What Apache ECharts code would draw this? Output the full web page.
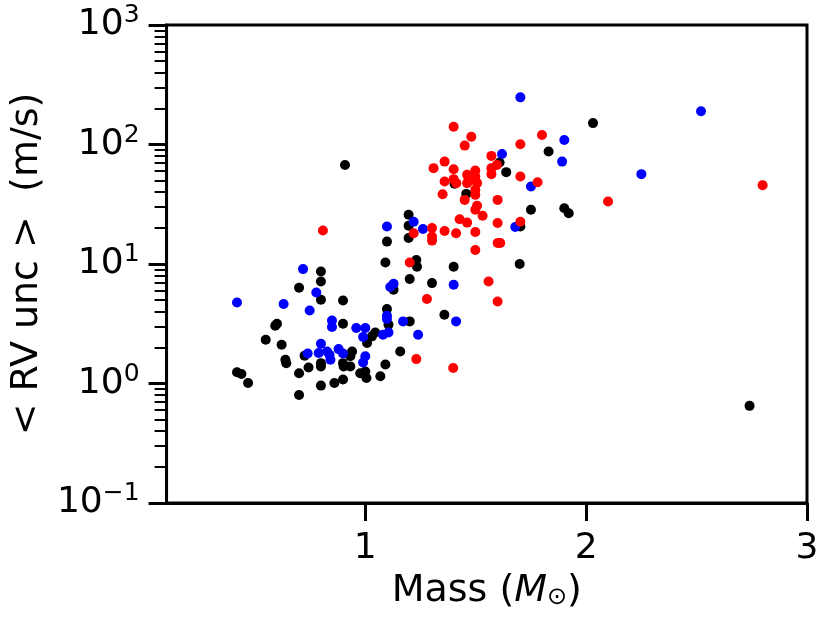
<!DOCTYPE html>
<html>
<head>
<meta charset="utf-8">
<script src="https://cdn.jsdelivr.net/npm/echarts@6/dist/echarts.min.js"></script>
<style>
  html, body { margin: 0; padding: 0; background: #fff; }
  #chart { width: 830px; height: 621px; }
</style>
</head>
<body>
<div id="chart"></div>
<script>
// [mass, <RV unc>] pairs
var blackPts = [
  [1.196, 25.8], [1.196, 20.9], [1.098, 15.4], [1.196, 16.5], [1.091, 10.3], [1.231, 10.8],
  [1.234, 9.5], [1.201, 7.48], [1.302, 6.92], [0.799, 8.65], [0.799, 7.14], [0.700, 6.32],
  [1.128, 6.09], [0.799, 5.02], [0.899, 4.95], [1.098, 4.20], [1.105, 3.10], [1.201, 3.31],
  [0.592, 3.04], [0.600, 3.16], [0.899, 3.16], [0.549, 2.32], [0.621, 2.11], [1.045, 2.67],
  [1.030, 2.48], [1.008, 2.18], [0.940, 1.85], [0.932, 1.69], [1.158, 1.85], [0.725, 1.71],
  [0.638, 1.58], [0.642, 1.48], [0.799, 1.48], [0.799, 1.39], [0.899, 1.48], [0.902, 1.39],
  [0.932, 1.39], [0.743, 1.36], [1.091, 1.44], [0.700, 1.22], [0.419, 1.24], [0.439, 1.20],
  [0.469, 1.01], [0.977, 1.22], [1.000, 1.26], [1.005, 1.11], [1.068, 1.15], [0.899, 1.08],
  [0.860, 1.01], [0.799, 0.96], [0.700, 0.80], [2.031, 151], [1.830, 87.3], [1.608, 70.6],
  [1.638, 58.7], [1.404, 46.9], [1.457, 38.6], [1.750, 28.4], [1.901, 29.3], [1.921, 26.6],
  [1.702, 20.6], [1.400, 9.5], [1.699, 10.0], [1.358, 3.76], [2.740, 0.65], [0.908, 67.3]
];
var bluePts = [
  [1.219, 22.6], [1.261, 19.6], [1.098, 20.6], [0.718, 9.06], [0.778, 5.78], [0.748, 4.08],
  [0.630, 4.62], [0.419, 4.77], [1.113, 6.41], [1.128, 6.83], [1.098, 3.69], [1.098, 3.46],
  [0.849, 3.37], [0.849, 2.97], [0.959, 2.91], [1.000, 2.91], [0.990, 2.45], [1.171, 3.31],
  [1.239, 2.56], [1.080, 2.56], [1.105, 2.67], [0.799, 2.15], [0.739, 1.78], [0.789, 1.80],
  [0.827, 1.85], [0.842, 1.58], [0.838, 1.74], [0.879, 1.94], [0.899, 1.78], [1.000, 1.69],
  [0.990, 1.50], [1.702, 248], [1.901, 109], [1.891, 71.9], [1.619, 83.4], [1.750, 44.5],
  [1.679, 20.4], [1.400, 6.70], [1.411, 3.31], [2.520, 190], [2.250, 56.5]
];
var redPts = [
  [0.808, 19.1], [1.219, 18.1], [1.302, 20.0], [1.302, 17.0], [1.302, 15.7], [1.201, 10.3],
  [1.279, 5.09], [1.231, 1.60], [1.400, 141], [1.480, 116], [1.450, 97.9], [1.800, 120],
  [1.702, 100.6], [1.571, 80.3], [1.359, 71.9], [1.309, 63.4], [1.400, 62.1], [1.498, 60.5],
  [1.461, 55.7], [1.498, 53.9], [1.498, 50.6], [1.506, 47.5], [1.461, 47.5], [1.571, 63.4],
  [1.571, 56.5], [1.596, 67.5], [1.359, 49.0], [1.400, 51.3], [1.412, 47.5], [1.498, 41.7],
  [1.498, 37.9], [1.350, 38.4], [1.450, 34.4], [1.599, 34.4], [1.702, 53.9], [1.780, 48.4],
  [2.099, 33.3], [1.506, 30.7], [1.498, 28.4], [1.531, 25.3], [1.427, 23.7], [1.461, 22.2],
  [1.599, 22.0], [1.359, 18.9], [1.411, 18.1], [1.498, 18.5], [1.702, 22.6], [1.599, 15.0],
  [1.611, 15.0], [1.498, 13.1], [1.558, 7.14], [1.599, 4.86], [1.398, 1.35], [2.799, 45.7]
];
var xTicks = [1, 2, 3];
var yMajorTicks = [-1, 0, 1, 2, 3];   // log10 positions of 10^-1 .. 10^3
var yMinorTicks = [];
[0.1, 1, 10, 100].forEach(function (d) {
  for (var k = 2; k <= 9; k++) yMinorTicks.push(Math.log10(k * d));
});

var FONT = 'DejaVu Sans';
var chart = echarts.init(document.getElementById('chart'));

function dots(data, color) {
  return {
    type: 'scatter',
    data: data,
    symbolSize: 10,
    itemStyle: { color: color, opacity: 1 },
    xAxisIndex: 0,
    yAxisIndex: 0
  };
}

var option = {
  animation: false,
  backgroundColor: '#fff',
  grid: {
    left: 166, right: 23, top: 25, bottom: 118,
    show: true, borderColor: '#000', borderWidth: 3, backgroundColor: 'transparent'
  },
  xAxis: {
    type: 'value',
    min: 0.1,
    max: 3,
    name: 'Mass ({i|M}{o|⊙})',
    nameLocation: 'middle',
    nameGap: 62,
    nameTextStyle: {
      fontFamily: FONT, fontSize: 38, color: '#000',
      rich: {
        i: { fontFamily: FONT, fontSize: 38, fontStyle: 'italic', color: '#000' },
        o: { fontFamily: FONT, fontSize: 24, color: '#000', padding: [14, 0, 0, 0] }
      }
    },
    axisLine: { onZero: false, lineStyle: { color: '#000', width: 3 } },
    axisTick: { customValues: xTicks, length: 18, lineStyle: { color: '#000', width: 3 } },
    axisLabel: {
      customValues: xTicks, margin: 28,
      fontFamily: FONT, fontSize: 36, color: '#000'
    },
    splitLine: { show: false }
  },
  yAxis: [{
    type: 'log',
    logBase: 10,
    min: 0.1,
    max: 1000,
    name: '< RV unc >  (m/s)',
    nameLocation: 'middle',
    nameGap: 117,
    nameTextStyle: { fontFamily: FONT, fontSize: 38, color: '#000' },
    axisLine: { onZero: false, lineStyle: { color: '#000', width: 3 } },
    axisTick: { show: false },
    axisLabel: {
      margin: 27,
      formatter: function (v) {
        var e = Math.round(Math.log10(v));
        return '{b|10}{s|' + (e < 0 ? '\u2212' + (-e) : e) + '}';
      },
      rich: {
        b: { fontFamily: FONT, fontSize: 36, color: '#000', lineHeight: 44 },
        s: { fontFamily: FONT, fontSize: 25, color: '#000', verticalAlign: 'top', lineHeight: 26 }
      }
    },
    splitLine: { show: false }
  }, {
    // minor ticks, placed in log10 space
    type: 'value',
    min: -1,
    max: 3,
    position: 'left',
    axisLine: { show: false, onZero: false },
    axisLabel: { show: false },
    axisTick: { customValues: yMinorTicks, length: 12, lineStyle: { color: '#000', width: 2 } },
    splitLine: { show: false }
  }, {
    // major ticks, placed in log10 space
    type: 'value',
    min: -1,
    max: 3,
    position: 'left',
    axisLine: { show: false, onZero: false },
    axisLabel: { show: false },
    axisTick: { customValues: yMajorTicks, length: 18, lineStyle: { color: '#000', width: 3 } },
    splitLine: { show: false }
  }],
  series: [
    dots(blackPts, '#000000'),
    dots(bluePts, '#0000ff'),
    dots(redPts, '#ff0000')
  ]
};
chart.setOption(option);
window.addEventListener('resize', function () { chart.resize(); });
</script>
</body>
</html>
